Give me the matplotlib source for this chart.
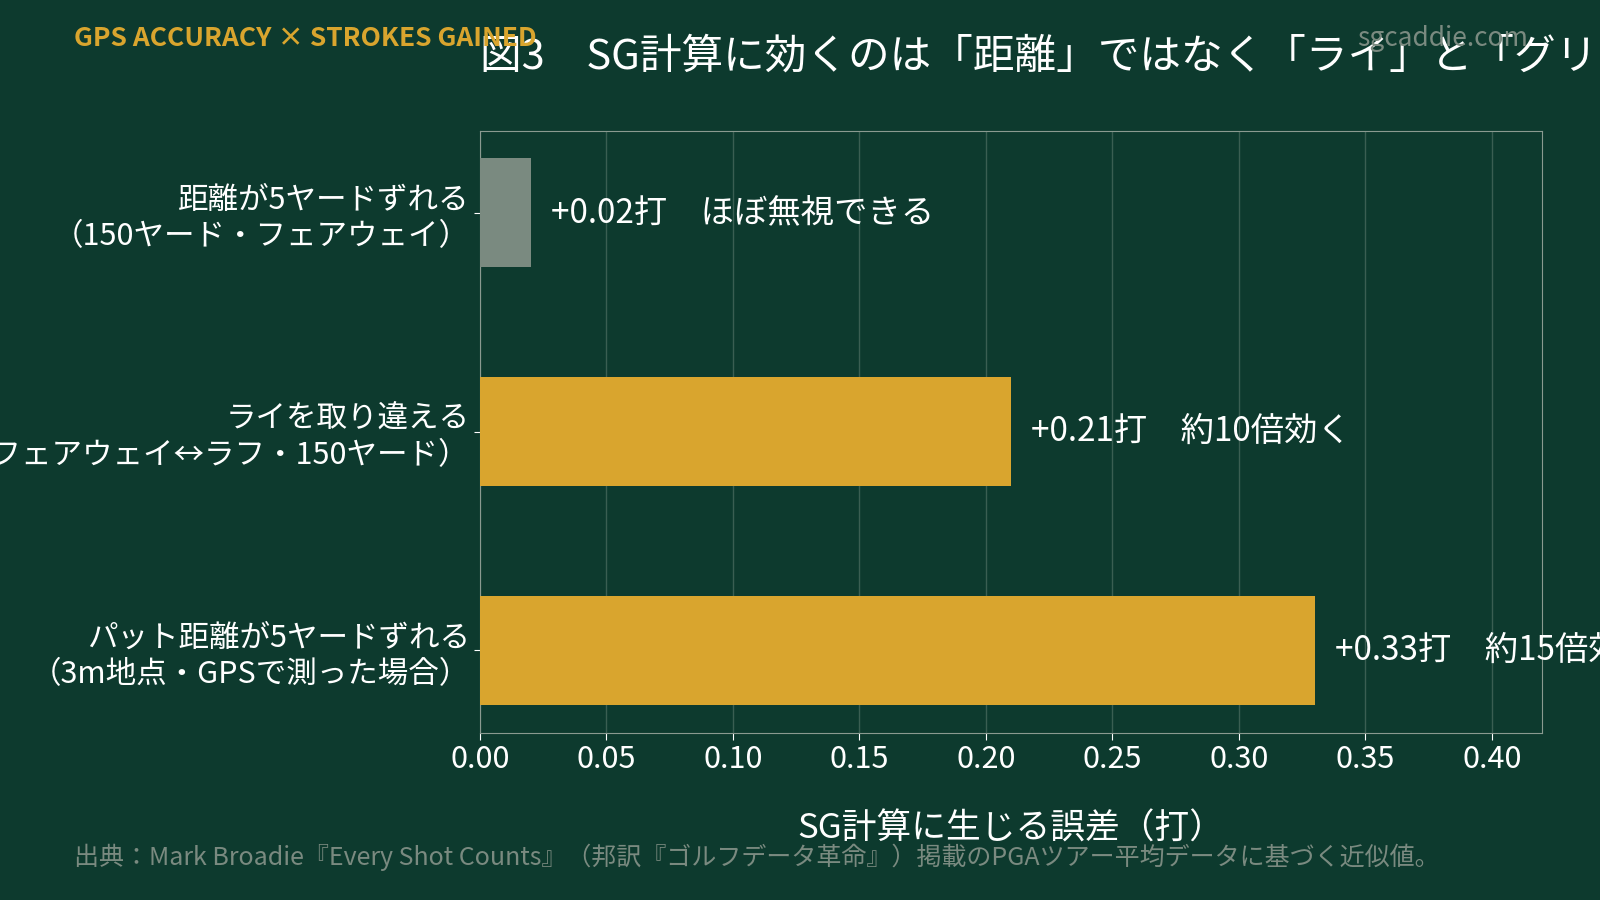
import matplotlib.pyplot as plt

plt.rcParams['font.family'] = ['Noto Sans CJK JP', 'DejaVu Sans']

# データ
labels = ["距離が5ヤードずれる\n（150ヤード・フェアウェイ）",
          "ライを取り違える\n（フェアウェイ↔ラフ・150ヤード）",
          "パット距離が5ヤードずれる\n（3m地点・GPSで測った場合）"]
values = [0.02, 0.21, 0.33]
notes = ["ほぼ無視できる", "約10倍効く", "約15倍効く"]
colors = ["#7a8a80", "#d9a52e", "#d9a52e"]

bg = "#0d3a2e"
fig = plt.figure(figsize=(16, 9), dpi=100, facecolor=bg)
ax = fig.add_axes([0.300, 0.186, 0.664, 0.669], facecolor=bg)

ypos = range(len(values))
ax.barh(ypos, values, height=0.5, color=colors, zorder=3)
for y, v, n in zip(ypos, values, notes):
    ax.text(v + 0.008, y, f"+{v:.2f}打　{n}", color="white", fontsize=24,
            va="center", clip_on=False)

ax.set_yticks(list(ypos))
ax.set_yticklabels(labels, fontsize=22, color="white", ha="right")
ax.set_ylim(2.375, -0.375)
ax.set_xlim(0, 0.42)
ax.set_xticks([0, 0.05, 0.1, 0.15, 0.2, 0.25, 0.3, 0.35, 0.4])
ax.set_xticklabels([f"{t:.2f}" for t in ax.get_xticks()])
ax.tick_params(axis="x", colors="white", labelsize=22, length=5)
ax.tick_params(axis="y", colors="white", length=4)
ax.grid(axis="x", color="#3a5e52", lw=1, zorder=0)
for s in ax.spines.values():
    s.set_color("#8a9a90")
ax.set_xlabel("SG計算に生じる誤差（打）", color="white", fontsize=25, labelpad=26)

fig.text(0.300, 0.937, "図3　SG計算に効くのは「距離」ではなく「ライ」と「グリーン上」",
         color="white", fontsize=30, va="center", ha="left")
fig.text(0.046, 0.957, "GPS ACCURACY × STROKES GAINED", color="#d9a52e",
         fontsize=19, fontweight="bold", va="center")
fig.text(0.955, 0.957, "sgcaddie.com", color="#7a8a80", fontsize=19,
         va="center", ha="right")
fig.text(0.046, 0.047, "出典：Mark Broadie『Every Shot Counts』（邦訳『ゴルフデータ革命』）掲載のPGAツアー平均データに基づく近似値。",
         color="#7a8a80", fontsize=18, va="center")

fig.savefig("out.png", facecolor=bg)
